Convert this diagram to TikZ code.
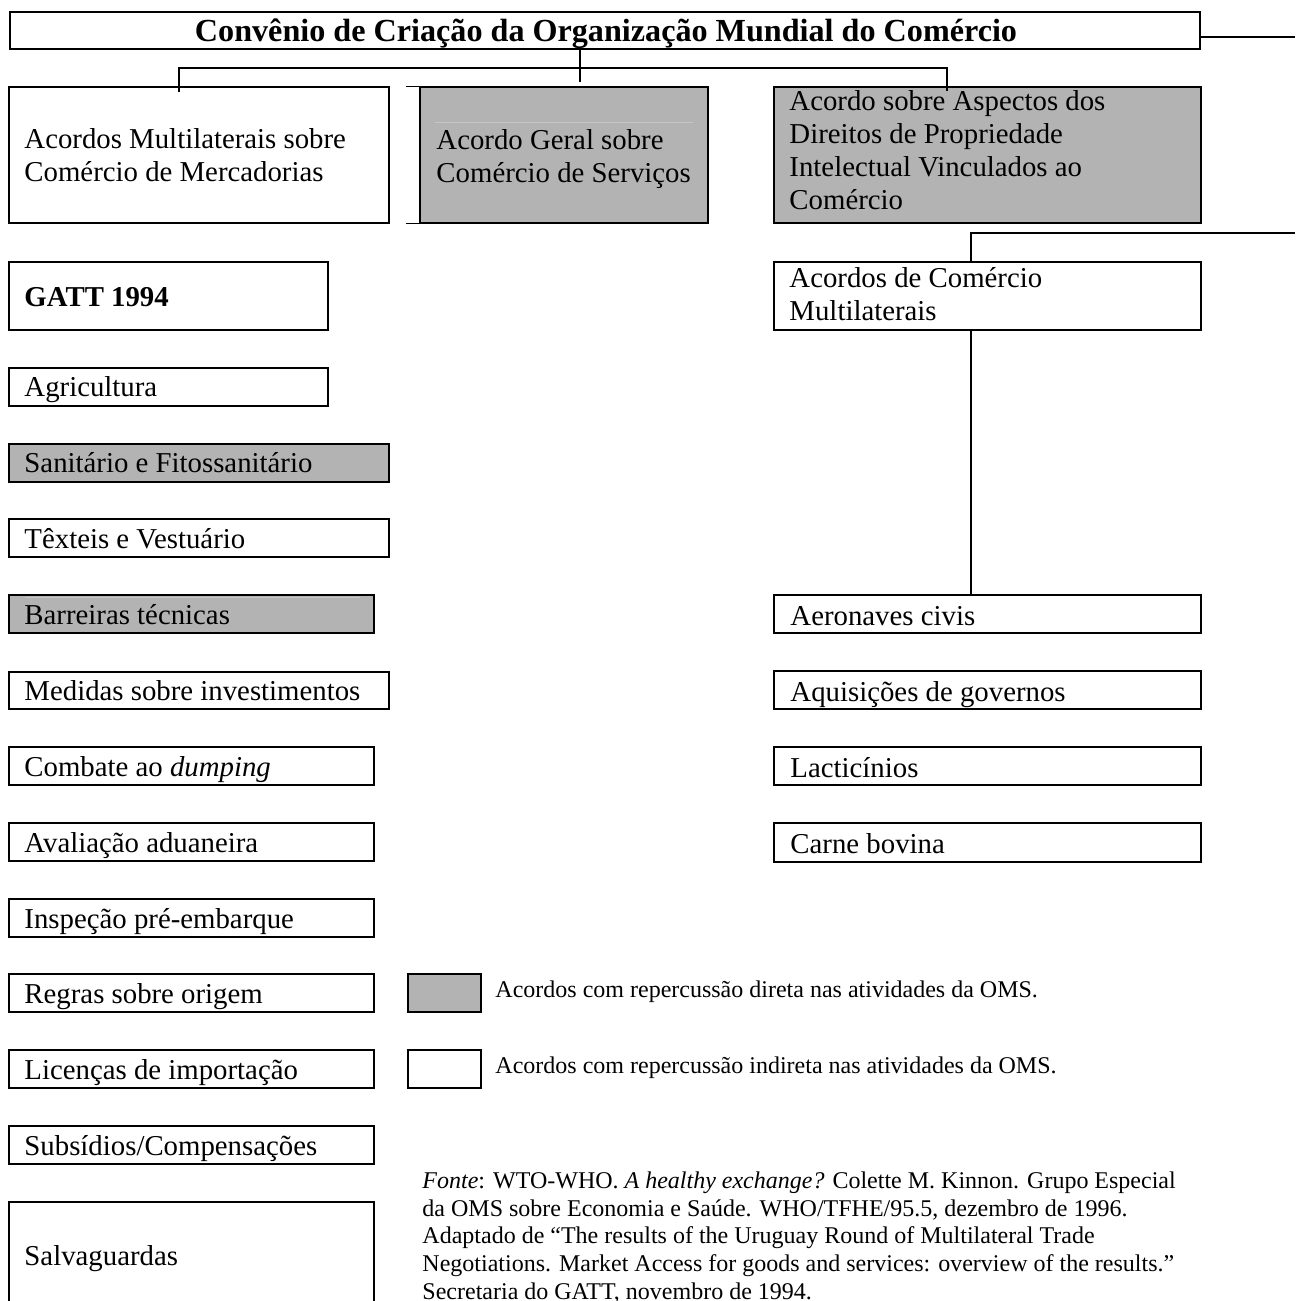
\documentclass[tikz,border=0pt]{standalone}
\usepackage{fontspec}
\setmainfont{Liberation Serif}
\usetikzlibrary{calc,fit}
\definecolor{omsGray}{HTML}{B3B3B3}
\definecolor{omsFaint}{HTML}{C6C6C6}
\begin{document}
\begin{tikzpicture}[x=0.4167pt, y=-0.4167pt, box/.style={draw, line width=0.5pt, inner sep=0pt}, shaded/.style={box, fill=omsGray}, edge/.style={line width=0.5pt}, link/.style={line width=0.65pt}, faintline/.style={line width=0.4pt, omsFaint}, lbl/.style={anchor=base west, inner sep=0pt, align=left, font=\fontsize{12}{13.8}\selectfont}, small/.style={anchor=base west, inner sep=0pt, align=left, font=\fontsize{10}{11.5}\selectfont}, source/.style={anchor=base west, inner sep=0pt, align=left, font=\fontsize{10}{11.5}\selectfont}]
\useasboundingbox (0,0) rectangle (1295,1301);
\clip (0,0) rectangle (1295,1301);
% top level
\node[box, fit={(10,12) (1200,49)}] (title) {};
\node[anchor=base, inner sep=0pt, font=\bfseries\fontsize{13.4}{16}\selectfont] (titleT) at (606,42) {Convênio de Criação da Organização Mundial do Comércio};
% the three agreements (base = last line)
\node[box, fit={(9,87) (389,223)}] (mult) {};
\node[lbl] (multT) at (24,182) {Acordos Multilaterais sobre\\Comércio de Mercadorias};
\node[shaded, fit={(420,87) (708,223)}] (gats) {};
\draw[edge] ($(gats.north west)+(-13,0)$) -- (gats.north west);
\draw[edge] ($(gats.south west)+(-13,0)$) -- (gats.south west);
\draw[faintline] (435,122) -- (693,122);
\node[lbl] (gatsT) at (436,183) {Acordo Geral sobre\\Comércio de Serviços};
\node[shaded, fit={(774,87) (1201,223)}] (trips) {};
\node[lbl] (tripsT) at (789,210) {Acordo sobre Aspectos dos\\Direitos de Propriedade\\Intelectual Vinculados ao\\Comércio};
% left column: goods
\node[box, fit={(9,262) (328,330)}] (gatt) {};
\node[lbl, font=\bfseries\fontsize{12}{13.8}\selectfont] (gattT) at (24,307) {GATT 1994};
\node[box, fit={(9,368) (328,406)}] (agri) {};
\node[lbl] (agriT) at (24,397) {Agricultura};
\node[shaded, fit={(9,444) (389,482)}] (sps) {};
\node[lbl] (spsT) at (24,473) {Sanitário e Fitossanitário};
\node[box, fit={(9,519) (389,557)}] (tex) {};
\node[lbl] (texT) at (24,548) {Têxteis e Vestuário};
\node[shaded, fit={(9,595) (374,633)}] (tbt) {};
\draw[faintline] (25,597) -- (360,597);
\node[lbl] (tbtT) at (24,624) {Barreiras técnicas};
\node[box, fit={(9,672) (389,709)}] (trims) {};
\node[lbl] (trimsT) at (24,700) {Medidas sobre investimentos};
\node[box, fit={(9,747) (374,785)}] (dump) {};
\node[lbl] (dumpT) at (24,776) {Combate ao \textit{dumping}};
\node[box, fit={(9,823) (374,861)}] (aval) {};
\node[lbl] (avalT) at (24,852) {Avaliação aduaneira};
\node[box, fit={(9,899) (374,937)}] (insp) {};
\node[lbl] (inspT) at (24,928) {Inspeção pré-embarque};
\node[box, fit={(9,974) (374,1012)}] (orig) {};
\node[lbl] (origT) at (24,1003) {Regras sobre origem};
\node[box, fit={(9,1050) (374,1088)}] (lic) {};
\node[lbl] (licT) at (24,1079) {Licenças de importação};
\node[box, fit={(9,1126) (374,1164)}] (subs) {};
\node[lbl] (subsT) at (24,1155) {Subsídios/Compensações};
\node[box, fit={(9,1202) (374,1340)}] (salv) {};
\node[lbl] (salvT) at (24,1265) {Salvaguardas};
% right column: plurilateral
\node[box, fit={(774,262) (1201,330)}] (acm) {};
\node[lbl] (acmT) at (789,321) {Acordos de Comércio\\Multilaterais};
\node[box, fit={(774,595) (1201,633)}] (aero) {};
\node[lbl] (aeroT) at (790,625) {Aeronaves civis};
\node[box, fit={(774,671) (1201,709)}] (aquis) {};
\node[lbl] (aquisT) at (790,701) {Aquisições de governos};
\node[box, fit={(774,747) (1201,785)}] (lact) {};
\node[lbl] (lactT) at (790,777) {Lacticínios};
\node[box, fit={(774,823) (1201,862)}] (carne) {};
\node[lbl] (carneT) at (790,853) {Carne bovina};
% legend
\node[shaded, fit={(408,974) (481,1012)}] (legG) {};
\node[small] (legGT) at (495,997) {Acordos com repercussão direta nas atividades da OMS.};
\node[box, fit={(408,1050) (481,1088)}] (legW) {};
\node[small] (legWT) at (495,1073) {Acordos com repercussão indireta nas atividades da OMS.};
\node[source] (src) at (422,1299) {\textit{Fonte}: WTO-WHO. \textit{A healthy exchange?} Colette M. Kinnon. Grupo Especial\\da OMS sobre Economia e Saúde. WHO/TFHE/95.5, dezembro de 1996.\\Adaptado de ``The results of the Uruguay Round of Multilateral Trade\\Negotiations. Market Access for goods and services: overview of the results.''\\Secretaria do GATT, novembro de 1994.};
% connectors
\coordinate (busL) at (179,68);
\coordinate (busM) at (580,68);
\coordinate (busR) at (947,68);
\draw[link] (title.south -| busM) -- ($(busM)+(0,14)$);
\draw[link] ($(mult.north -| busL)+(0,6)$) -- (busL) -- (busR) -- ($(trips.north -| busR)+(0,5)$);
\coordinate (outA) at (1295,37);
\draw[link] (title.east |- outA) -- (outA);
\coordinate (acmUp) at (971,233);
\coordinate (outB) at (1295,233);
\draw[link] (acm.north -| acmUp) -- (acmUp) -- (outB);
\draw[link] (acm.south -| acmUp) -- (aero.north -| acmUp);
\end{tikzpicture}
\end{document}
